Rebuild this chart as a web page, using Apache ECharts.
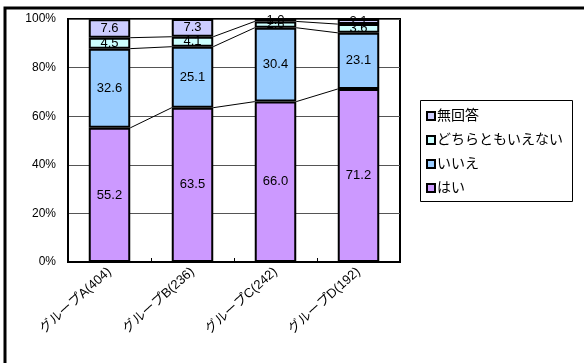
<!DOCTYPE html>
<html><head><meta charset="utf-8">
<script src="https://cdn.jsdelivr.net/npm/echarts@6/dist/echarts.min.js"></script>
<style>html,body{margin:0;padding:0;background:#fff}#c{width:584px;height:363px}</style>
</head><body><div id="c"></div>
<script>
const categories = ['グループA(404)', 'グループB(236)', 'グループC(242)', 'グループD(192)'];
const hai = [55.2, 63.5, 66.0, 71.2];
const iie = [32.6, 25.1, 30.4, 23.1];
const dochira = [4.5, 4.1, 2.6, 3.6];
const mukaitou = [7.6, 7.3, 1.0, 2.1];
const seriesNames = ['はい', 'いいえ', 'どちらともいえない', '無回答'];
const yTicks = [0, 20, 40, 60, 80, 100];

const FONT = '"Liberation Sans", "Noto Sans CJK JP", sans-serif';
const colors = ['#CC99FF', '#99CCFF', '#CCFFFF', '#CCCCFF'];
const stacks = [hai, iie, dochira, mukaitou];
const cum = [];
let run = categories.map(() => 0);
stacks.forEach(s => { run = run.map((v, i) => v + s[i]); cum.push(run.slice()); });

const chart = echarts.init(document.getElementById('c'));
const barSeries = stacks.map((d, k) => ({
  name: seriesNames[k], type: 'bar', stack: 'total', data: d, barWidth: '50%',
  itemStyle: { color: colors[k], borderColor: '#000', borderWidth: 2 },
  label: { show: true, position: 'inside', color: '#000', fontSize: 13, fontFamily: FONT,
    formatter: p => p.value.toFixed(1) },
  emphasis: { disabled: true }
}));
const lineSeries = {
  type: 'custom', silent: true, z: 1,
  data: categories.slice(0, -1).map((c, i) => [i]),
  encode: { x: 0 },
  renderItem: (params, api) => {
    const i = api.value(0);
    const hw = api.size([1, 0])[0] * 0.25;
    const children = [0, 1, 2].map(l => {
      const p1 = api.coord([i, Math.min(cum[l][i], 100)]);
      const p2 = api.coord([i + 1, Math.min(cum[l][i + 1], 100)]);
      return { type: 'line', shape: { x1: p1[0] + hw, y1: p1[1], x2: p2[0] - hw, y2: p2[1] },
        style: { stroke: '#000', lineWidth: 1 } };
    });
    return { type: 'group', children };
  }
};
chart.setOption({
  animation: false,
  backgroundColor: '#fff',
  textStyle: { fontFamily: FONT },
  graphic: [
    { type: 'polyline', silent: true,
      shape: { points: [[5, 400], [5, 8], [600, 8]] },
      style: { fill: null, stroke: '#000', lineWidth: 3 } },
    { type: 'rect', silent: true, z: -1,
      shape: { x: 420.5, y: 100.5, width: 152, height: 101 },
      style: { fill: '#fff', stroke: '#000', lineWidth: 1 } }
  ],
  grid: { left: 68, top: 19, right: 184, bottom: 101, show: true, borderColor: '#000', borderWidth: 2, containLabel: false },
  legend: {
    orient: 'vertical', left: 420, top: 101,
    data: ['無回答', 'どちらともいえない', 'いいえ', 'はい'],
    icon: 'rect', itemWidth: 8, itemHeight: 8, itemGap: 10,
    padding: [8, 5, 7, 6],
    borderWidth: 0,
    textStyle: { fontSize: 14, color: '#000', fontFamily: FONT, padding: [0, 0, 0, -3] },
    itemStyle: { borderColor: '#000', borderWidth: 2 },
    selectedMode: false
  },
  xAxis: {
    type: 'category', data: categories,
    axisLine: { show: true, lineStyle: { color: '#000', width: 2 } },
    axisTick: { show: true, inside: true, length: 4, lineStyle: { color: '#000' } },
    axisLabel: { rotate: 42, fontSize: 13, color: '#000', margin: 8, fontFamily: FONT, interval: 0 },
    splitLine: { show: false }
  },
  yAxis: {
    type: 'value', min: 0, max: 100, interval: 20,
    axisLine: { show: true, lineStyle: { color: '#000', width: 2 } },
    axisTick: { show: false },
    axisLabel: { formatter: v => yTicks.includes(v) ? v + '%' : '', fontSize: 12, color: '#000', margin: 12, fontFamily: FONT },
    splitLine: { show: true, lineStyle: { color: '#555', width: 1 } }
  },
  series: [...barSeries, lineSeries]
});
</script></body></html>
